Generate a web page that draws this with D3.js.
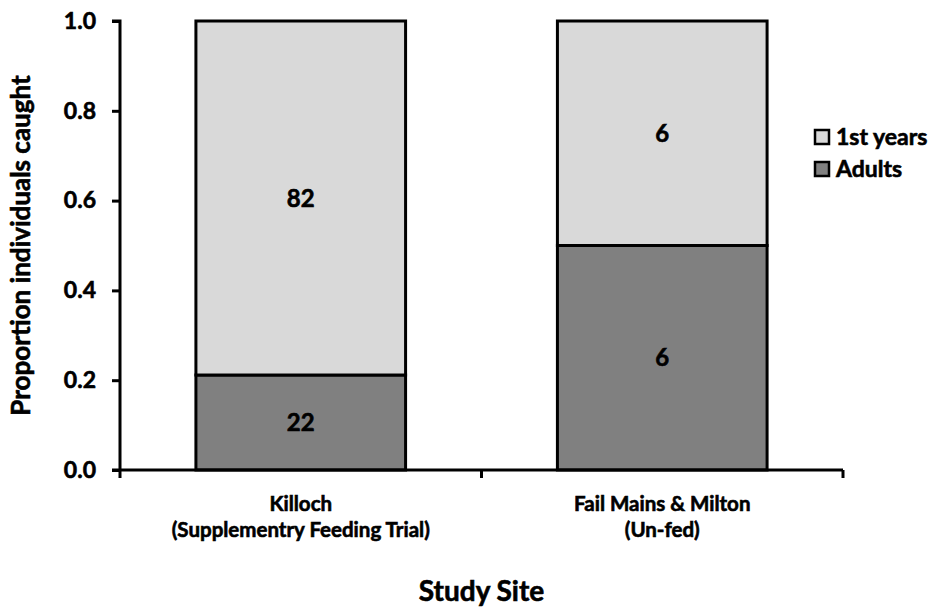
<!DOCTYPE html>
<html>
<head>
<meta charset="utf-8">
<script src="https://cdn.jsdelivr.net/npm/d3@7"></script>
<style>
  body { margin: 0; background: #fff; }
  svg text { font-family: Lato, "Open Sans", sans-serif; font-weight: bold; fill: #000; stroke: #000; stroke-width: 0.6px; }
</style>
</head>
<body>
<svg id="chart" width="936" height="608"></svg>
<script>
// Study sites (two-line labels) and counts of individuals caught per age class
const sites = ["Killoch", "Fail Mains & Milton"];
const siteSubtitles = ["(Supplementry Feeding Trial)", "(Un-fed)"];
const adults = [22, 6];
const firstYears = [82, 6];
const seriesNames = ["Adults", "1st years"];
const seriesColors = ["#808080", "#d9d9d9"];
const yTicks = [0, 0.2, 0.4, 0.6, 0.8, 1.0];

const svg = d3.select("#chart");
const margin = { left: 120, right: 93, top: 21, bottom: 138 };
const W = 936, H = 608;

const x = d3.scaleBand().domain(sites).range([margin.left, W - margin.right]).paddingInner(0.42).paddingOuter(0.21);
const y = d3.scaleLinear().domain([0, 1]).range([H - margin.bottom, margin.top]);

// stacked proportions
const rows = sites.map((s, i) => {
  const total = adults[i] + firstYears[i];
  return { site: s, Adults: adults[i] / total, "1st years": firstYears[i] / total, counts: [adults[i], firstYears[i]] };
});
const stack = d3.stack().keys(seriesNames)(rows);

stack.forEach((layer, li) => {
  svg.append("g").selectAll("rect").data(layer).join("rect")
    .attr("x", d => x(d.data.site))
    .attr("width", x.bandwidth())
    .attr("y", d => y(d[1]))
    .attr("height", d => y(d[0]) - y(d[1]))
    .attr("fill", seriesColors[li])
    .attr("stroke", "#000")
    .attr("stroke-width", 3);
  svg.append("g").selectAll("text").data(layer).join("text")
    .attr("x", d => x(d.data.site) + x.bandwidth() / 2)
    .attr("y", d => (y(d[0]) + y(d[1])) / 2)
    .attr("dy", "0.36em")
    .attr("text-anchor", "middle")
    .attr("font-size", 24)
    .text(d => d.data.counts[li]);
});

// y axis
const yAxis = svg.append("g").attr("transform", `translate(${margin.left},0)`)
  .call(d3.axisLeft(y).tickValues(yTicks).tickFormat(d3.format(".1f")).tickSize(8).tickPadding(16));
yAxis.select(".domain").attr("stroke-width", 3).attr("d", `M-8,${y(1)}H0V${y(0)}`);
yAxis.selectAll(".tick line").attr("stroke-width", 3);
yAxis.selectAll(".tick text").attr("font-size", 23).attr("font-family", null);

// x axis: boundary ticks between categories
const xAxisG = svg.append("g").attr("transform", `translate(0,${y(0)})`);
const x0 = margin.left, x1 = W - margin.right;
xAxisG.append("path").attr("d", `M${x0 - 8},0H${x1}`).attr("stroke", "#000").attr("stroke-width", 3).attr("fill", "none");
const boundaries = [x0, (x0 + x1) / 2, x1];
xAxisG.selectAll("line.tk").data(boundaries).join("line")
  .attr("x1", d => d).attr("x2", d => d).attr("y1", 0).attr("y2", 8)
  .attr("stroke", "#000").attr("stroke-width", 3);

const lab = xAxisG.selectAll("text.cat").data(sites).join("text")
  .attr("text-anchor", "middle")
  .attr("font-size", 20.5)
  .attr("transform", d => `translate(${x(d) + x.bandwidth() / 2},0)`);
lab.append("tspan").attr("x", 0).attr("y", 41).text(d => d);
lab.append("tspan").attr("x", 0).attr("y", 67).text((d, i) => siteSubtitles[i]);

// axis titles
svg.append("text").attr("x", (x0 + x1) / 2).attr("y", 601).attr("text-anchor", "middle").attr("font-size", 28).text("Study Site");
svg.append("text").attr("transform", `translate(30,${(y(0) + y(1)) / 2}) rotate(-90)`).attr("text-anchor", "middle").attr("font-size", 26).text("Proportion individuals caught");

// legend
const legend = svg.append("g");
const legendItems = [{ name: "1st years", color: seriesColors[1] }, { name: "Adults", color: seriesColors[0] }];
legendItems.forEach((it, i) => {
  const g = legend.append("g").attr("transform", `translate(815,${130 + i * 32})`);
  g.append("rect").attr("width", 14).attr("height", 14).attr("fill", it.color).attr("stroke", "#000").attr("stroke-width", 2.5);
  g.append("text").attr("x", 21).attr("y", 7).attr("dy", "0.36em").attr("font-size", 23).text(it.name);
});
</script>
</body>
</html>
